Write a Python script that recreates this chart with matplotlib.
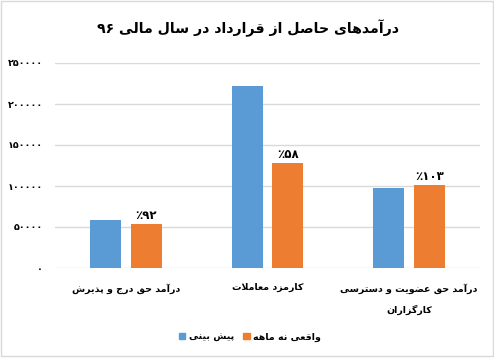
import matplotlib
matplotlib.use("Agg")
import matplotlib.pyplot as plt
from matplotlib.patches import Rectangle, Patch
import numpy as np

# ---------------- data ----------------
title = "درآمدهای حاصل از قرارداد در سال مالی ۹۶"
categories = ["درآمد حق درج و پذیرش", "کارمزد معاملات", "درآمد حق عضویت و دسترسی\nکارگزاران"]
series_names = ["پیش بینی", "واقعی نه ماهه"]
forecast = [58500, 222000, 98000]
actual = [54000, 128000, 101000]
pct_labels = ["٪۹۲", "٪۵۸", "٪۱۰۳"]
yticks = [0, 50000, 100000, 150000, 200000, 250000]

# ---------------- simple Persian shaping + visual ordering ----------------
FORMS = {
    'ا': (0xFE8D, 0xFE8E, None, None),
    'آ': (0xFE81, 0xFE82, None, None),
    'ب': (0xFE8F, 0xFE90, 0xFE91, 0xFE92),
    'پ': (0xFB56, 0xFB57, 0xFB58, 0xFB59),
    'ت': (0xFE95, 0xFE96, 0xFE97, 0xFE98),
    'ج': (0xFE9D, 0xFE9E, 0xFE9F, 0xFEA0),
    'ح': (0xFEA1, 0xFEA2, 0xFEA3, 0xFEA4),
    'د': (0xFEA9, 0xFEAA, None, None),
    'ذ': (0xFEAB, 0xFEAC, None, None),
    'ر': (0xFEAD, 0xFEAE, None, None),
    'ز': (0xFEAF, 0xFEB0, None, None),
    'س': (0xFEB1, 0xFEB2, 0xFEB3, 0xFEB4),
    'ش': (0xFEB5, 0xFEB6, 0xFEB7, 0xFEB8),
    'ص': (0xFEB9, 0xFEBA, 0xFEBB, 0xFEBC),
    'ض': (0xFEBD, 0xFEBE, 0xFEBF, 0xFEC0),
    'ع': (0xFEC9, 0xFECA, 0xFECB, 0xFECC),
    'ق': (0xFED5, 0xFED6, 0xFED7, 0xFED8),
    'ک': (0xFB8E, 0xFB8F, 0xFB90, 0xFB91),
    'گ': (0xFB92, 0xFB93, 0xFB94, 0xFB95),
    'ل': (0xFEDD, 0xFEDE, 0xFEDF, 0xFEE0),
    'م': (0xFEE1, 0xFEE2, 0xFEE3, 0xFEE4),
    'ن': (0xFEE5, 0xFEE6, 0xFEE7, 0xFEE8),
    'ه': (0xFEE9, 0xFEEA, 0xFEEB, 0xFEEC),
    'و': (0xFEED, 0xFEEE, None, None),
    'ی': (0xFBFC, 0xFBFD, 0xFBFE, 0xFBFF),
}
LAM_ALEF = {'ا': (0xFEFB, 0xFEFC), 'آ': (0xFEF5, 0xFEF6)}
DIGITS = set("۰۱۲۳۴۵۶۷۸۹0123456789٪%")


def dual(c):
    return c in FORMS and FORMS[c][2] is not None


def shape(s):
    chars = list(s)
    out = []
    i = 0
    n = len(chars)
    while i < n:
        c = chars[i]
        prev = chars[i - 1] if i > 0 else None
        if c == 'ل' and i + 1 < n and chars[i + 1] in LAM_ALEF:
            iso, fin = LAM_ALEF[chars[i + 1]]
            out.append(chr(fin if dual(prev) else iso))
            i += 2
            continue
        if c in FORMS:
            nxt = chars[i + 1] if i + 1 < n else None
            cp = dual(prev)
            cn = dual(c) and (nxt in FORMS)
            f = FORMS[c]
            if cp and cn:
                code = f[3]
            elif cp:
                code = f[1]
            elif cn:
                code = f[2]
            else:
                code = f[0]
            out.append(chr(code))
        else:
            out.append(c)
        i += 1
    return "".join(out)


def visual(s):
    lines = []
    for line in s.split("\n"):
        sh = shape(line)
        runs = []
        for ch in sh:
            if ch in DIGITS and runs and runs[-1][0] == 'd':
                runs[-1][1] += ch
            elif ch in DIGITS:
                runs.append(['d', ch])
            else:
                runs.append(['o', ch])
        lines.append("".join(r[1] for r in runs[::-1]))
    return "\n".join(lines)


def fa_num(v):
    return str(v).translate(str.maketrans("0123456789", "۰۱۲۳۴۵۶۷۸۹"))


# ---------------- plot ----------------
FONT = ['DejaVu Sans']
plt.rcParams['font.family'] = FONT
plt.rcParams['font.weight'] = 'bold'

BLUE = '#5B9BD5'
ORANGE = '#ED7D31'
GRID = '#D9D9D9'

W, H = 494, 358
fig = plt.figure(figsize=(W / 100, H / 100), dpi=100)
fig.patches.append(Rectangle((0.5 / W, 2.5 / H), 492.5 / W, 355 / H, transform=fig.transFigure,
                             fill=False, edgecolor=GRID, linewidth=1.0))

ax = fig.add_axes([55 / W, 1 - 268 / H, 425 / W, 205 / H])
x = np.arange(len(categories))
bw = 0.22
off = 0.143
ax.bar(x - off, forecast, bw, color=BLUE, zorder=3)
bars2 = ax.bar(x + off, actual, bw, color=ORANGE, zorder=3)

for b, lab in zip(bars2, pct_labels):
    ax.text(b.get_x() + b.get_width() / 2, b.get_height() + 2500, visual(lab),
            ha='center', va='bottom', fontsize=8.5, fontweight='bold', color='black')

ax.set_xlim(-0.5, len(categories) - 0.5)
ax.set_ylim(0, 250000)
ax.set_yticks(yticks)
ax.set_yticklabels([fa_num(v) for v in yticks], fontsize=6.8, fontweight='bold')
ax.set_xticks(x)
ax.set_xticklabels([visual(c) for c in categories], fontsize=6.8, fontweight='bold',
                   linespacing=2.3)
ax.tick_params(axis='both', length=0)
ax.tick_params(axis='y', pad=8.5)
ax.tick_params(axis='x', pad=11)
for s in ax.spines.values():
    s.set_visible(False)
ax.yaxis.grid(True, color=GRID, linewidth=1.0, zorder=0)
ax.set_axisbelow(True)

fig.text(248 / W, 1 - 28 / H, visual(title), ha='center', va='center',
         fontsize=10.2, fontweight='bold')

handles = [Patch(color=BLUE), Patch(color=ORANGE)]
fig.legend(handles, [visual(n) for n in series_names], loc='center',
           bbox_to_anchor=(250 / W, 1 - 337 / H), ncol=2, frameon=False,
           handlelength=0.7, handleheight=0.7, handletextpad=0.4,
           columnspacing=0.9, prop={'weight': 'bold', 'size': 6.8})

fig.savefig("out.png", dpi=100)
